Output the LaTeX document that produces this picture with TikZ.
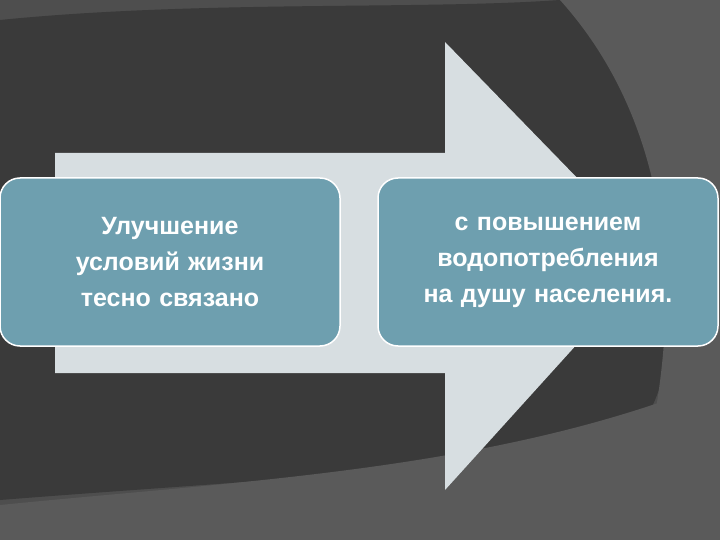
\documentclass[tikz,border=0pt]{standalone}
\usepackage{fontspec}
\setmainfont{Liberation Sans}
\definecolor{bgA}{HTML}{4E4E4E}
\definecolor{bgB}{HTML}{3A3A3A}
\definecolor{bgC}{HTML}{5A5A5A}
\definecolor{arr}{HTML}{D7DEE1}
\definecolor{boxc}{HTML}{6E9FAF}
\tikzset{box/.style={draw=white,line width=1.5pt,fill=boxc,rounded corners=20pt,minimum width=340pt,minimum height=168pt,text width=320pt,align=center,text=white,font=\fontsize{25}{36}\selectfont\bfseries,inner sep=0pt}}
\begin{document}
\begin{tikzpicture}[x=1pt,y=-1pt]
\useasboundingbox (0,0) rectangle (720,540);
\fill[bgA] (0,0) rectangle (720,540);
\fill[bgB] (0,20) .. controls (200,0) and (420,10) .. (560,0) -- (620,0) .. controls (690,150) and (700,330) .. (640,430) .. controls (500,470) and (250,480) .. (0,500) -- cycle;
\fill[bgC] (0,540) -- (0,505) .. controls (250,480) and (500,470) .. (720,380) -- (720,540) -- cycle;
\fill[bgC] (560,0) .. controls (650,100) and (690,250) .. (650,440) -- (720,420) -- (720,0) -- cycle;
\fill[arr] (55,153) -- (445,153) -- (445,42) -- (655,258) -- (445,490) -- (445,373) -- (55,373) -- cycle;
\node[box] (a) at (170,262) {Улучшение\\условий жизни\\тесно связано};
\node[box] (b) at (548,262) {с повышением\\водопотребления\\на душу населения.};
\end{tikzpicture}
\end{document}
